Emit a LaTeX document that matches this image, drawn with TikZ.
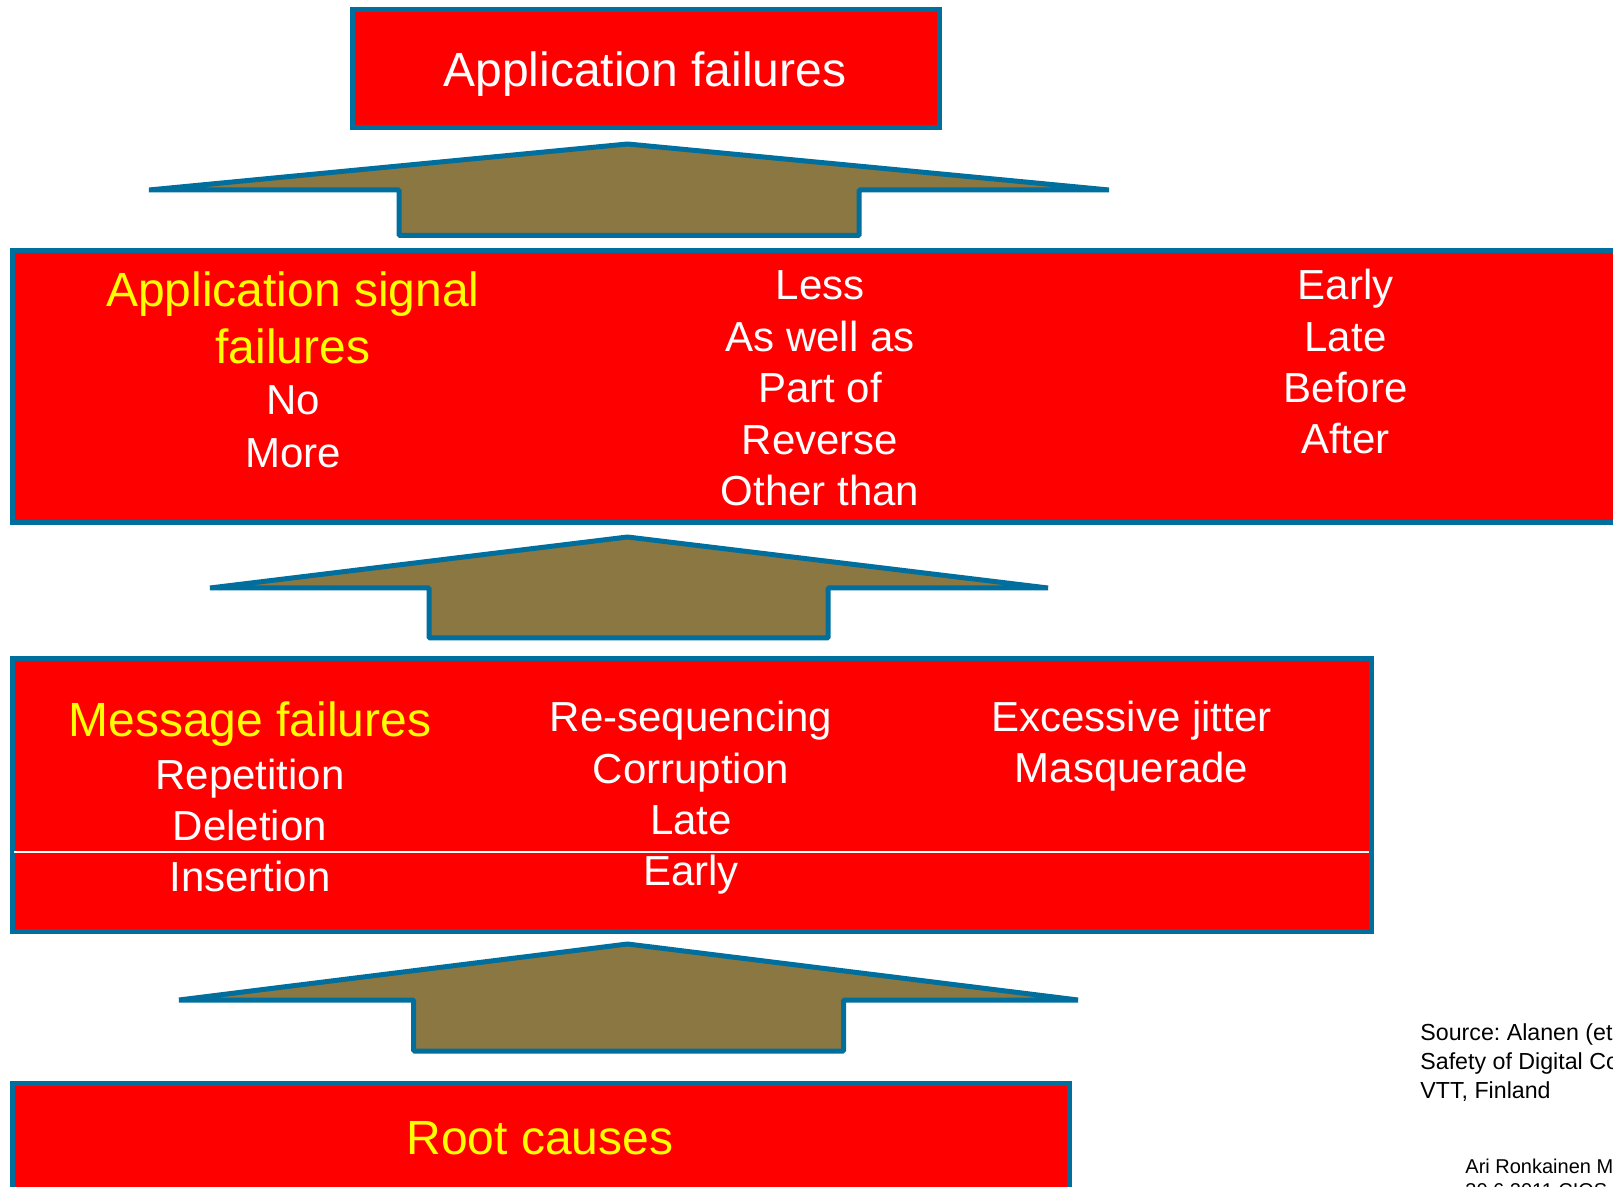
\documentclass[tikz,border=0pt]{standalone}
\usepackage{fontspec}
\setmainfont{Liberation Sans}
\frenchspacing
\definecolor{bordblue}{RGB}{0,111,158}
\definecolor{boxred}{RGB}{255,0,0}
\definecolor{arrbrown}{RGB}{139,119,66}
\definecolor{txtyellow}{RGB}{255,255,0}
\begin{document}
\begin{tikzpicture}[x=0.5pt,y=-0.5pt,
  redbox/.style={fill=boxred,draw=bordblue,line width=2.5pt},
  uparrow/.style={fill=arrbrown,draw=bordblue,line width=2.5pt,line join=bevel},
  big/.style={font=\fontsize{24}{28}\selectfont,inner sep=0pt,anchor=base},
  yt/.style={big,text=txtyellow},
  wbig/.style={big,text=white},
  wt/.style={font=\fontsize{21}{25}\selectfont,text=white,inner sep=0pt,anchor=base},
  src/.style={font=\fontsize{11.6}{14}\selectfont,text=black,inner sep=0pt,anchor=base west},
  srcsmall/.style={font=\fontsize{10}{12}\selectfont,text=black,inner sep=0pt,anchor=base west}]
\useasboundingbox (0,0) rectangle (1613,1187);
\clip (0,0) rectangle (1613,1187);
\fill[white] (0,0) rectangle (1613,1187);

% boxes
\draw[redbox] (352,10) rectangle (939,128);
\draw[redbox] (12,250.5) rectangle (1640,522.5);
\draw[redbox] (12,659) rectangle (1371,931);
\draw[white,line width=0.7pt] (14,852) -- (1369,852);
\draw[redbox] (12,1083) rectangle (1069,1220);

% arrows
\draw[uparrow] (627.5,144) -- (1109,190) -- (859,190) -- (859,235.5) -- (399,235.5) -- (399,190) -- (149,190) -- cycle;
\draw[uparrow] (627.5,537) -- (1048,588) -- (828,588) -- (828,638) -- (429,638) -- (429,588) -- (210,588) -- cycle;
\draw[uparrow] (627.5,944) -- (1078,1000) -- (843.5,1000) -- (843.5,1051) -- (413.5,1051) -- (413.5,1000) -- (179,1000) -- cycle;

% top
\node[wbig] (appfail) at (645,87) {Application failures};

% box 2
\node[yt] (asf1) at (293,307) {Application signal};
\node[yt] (asf2) at (293,364) {failures};
\node[wt] (no) at (293,415) {No};
\node[wt] (more) at (293,468) {More};
\foreach \t [count=\i] in {Less,As well as,Part of,Reverse,Other than}
  \node[wt] (mid\i) at (820,{300+51.4*(\i-1)}) {\t};
\foreach \t [count=\i] in {Early,Late,Before,After}
  \node[wt] (rgt\i) at (1345.5,{300+51.2*(\i-1)}) {\t};

% box 3
\node[yt] (msgf) at (250,736) {Message failures};
\foreach \t [count=\i] in {Repetition,Deletion,Insertion}
  \node[wt] (ml\i) at (250,{789+51*(\i-1)}) {\t};
\foreach \t [count=\i] in {Re-sequencing,Corruption,Late,Early}
  \node[wt] (mm\i) at (691,{732+51*(\i-1)}) {\t};
\node[wt] (mr1) at (1131.5,732) {Excessive jitter};
\node[wt] (mr2) at (1131.5,782) {Masquerade};

% root
\node[yt] (root) at (540,1154) {Root causes};

% source
\node[src] (s1) at (1420,1040) {Source: Alanen (et};
\node[src] (s2) at (1420,1069) {Safety of Digital Co};
\node[src] (s3) at (1420,1098) {VTT, Finland};
\node[srcsmall] (s4) at (1465,1173) {Ari Ronkainen M};
\node[srcsmall] (s5) at (1465,1197) {30.6.2011 CIOS};
\end{tikzpicture}
\end{document}
